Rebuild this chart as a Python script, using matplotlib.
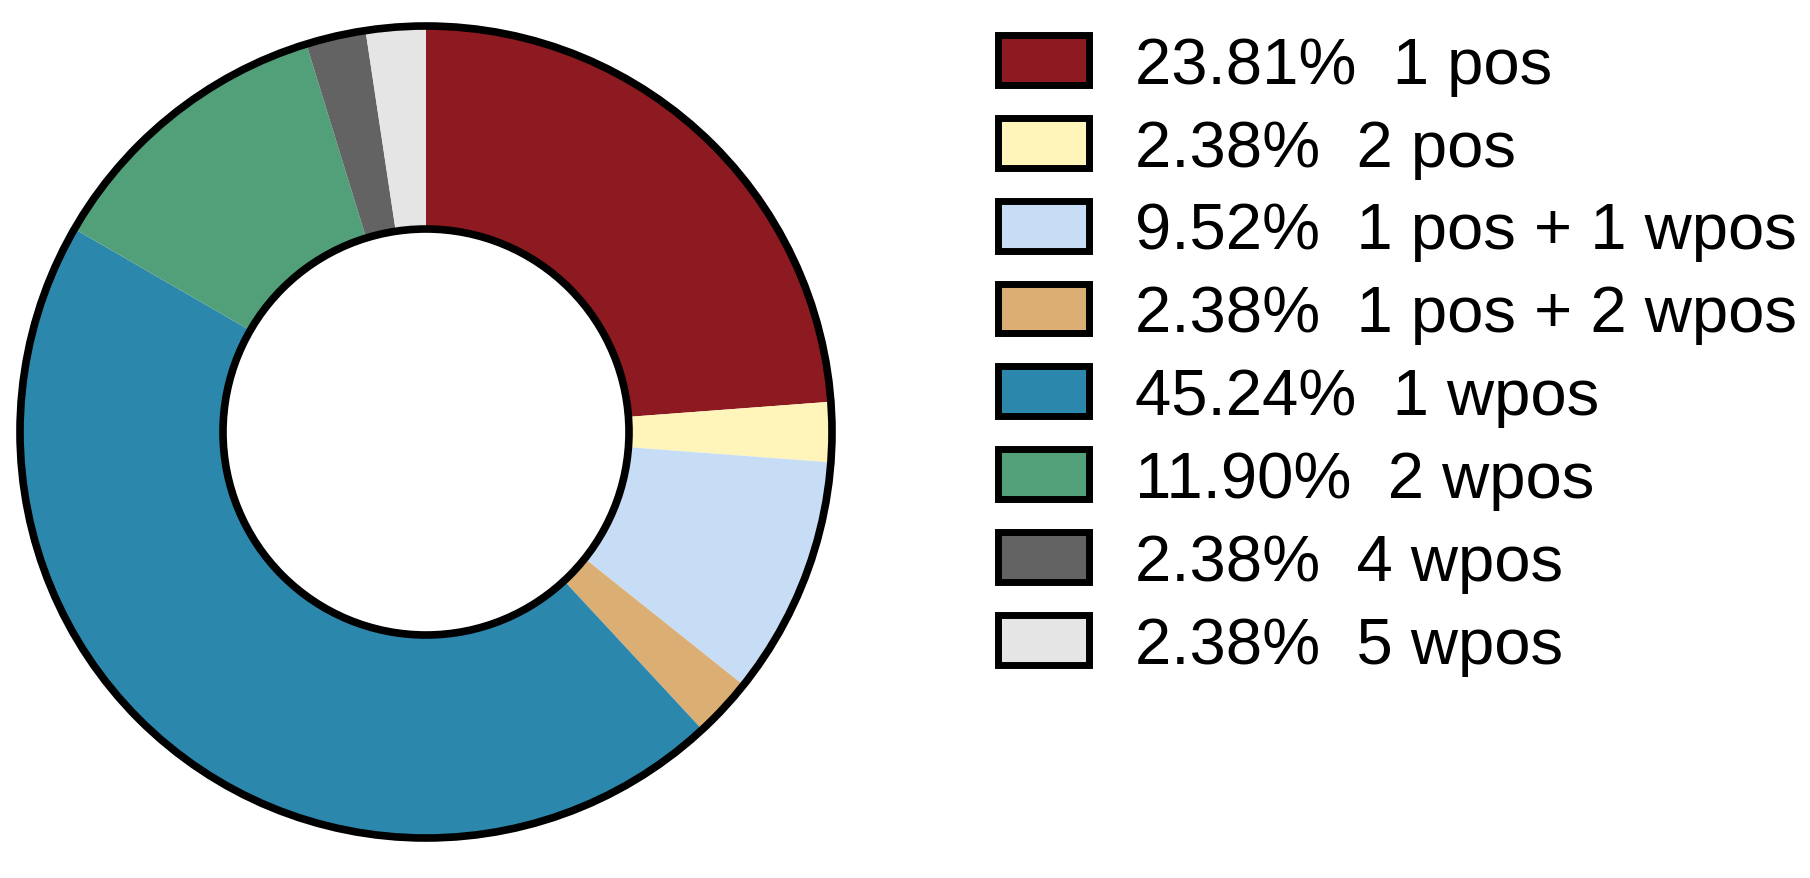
import matplotlib
matplotlib.use("Agg")
import matplotlib.pyplot as plt
from matplotlib.patches import Circle, Patch

plt.rcParams['font.family'] = ['Liberation Sans', 'DejaVu Sans']

# --- data ---
labels = ["1 pos", "2 pos", "1 pos + 1 wpos", "1 pos + 2 wpos",
          "1 wpos", "2 wpos", "4 wpos", "5 wpos"]
shares = [23.81, 2.38, 9.52, 2.38, 45.24, 11.90, 2.38, 2.38]
colors = ["#8E1A21", "#FFF4BA", "#C6DDF5", "#DBAE73",
          "#2C87AD", "#52A07A", "#636363", "#E5E5E5"]

W, H = 1810, 879
fig = plt.figure(figsize=(W / 100, H / 100), dpi=100)

# pie axes: centre ~(426, 433) px, outer radius ~406 px
R_PX, HALF = 406, 420
ax = fig.add_axes([(426 - HALF) / W, (H - 433 - HALF) / H, 2 * HALF / W, 2 * HALF / H])
ax.pie(shares, colors=colors, startangle=90, counterclock=False, radius=1,
       wedgeprops=dict(width=0.5, linewidth=0))
for r in (1.0, 0.5):
    ax.add_patch(Circle((0, 0), r, fill=False, edgecolor="black", linewidth=5.5))
lim = HALF / R_PX
ax.set_xlim(-lim, lim)
ax.set_ylim(-lim, lim)
ax.set_aspect("equal")
ax.axis("off")

handles = [Patch(facecolor=c, edgecolor="black", linewidth=5) for c in colors]
leg_labels = [f"{s:.2f}%  {l}" for s, l in zip(shares, labels)]
fig.legend(handles, leg_labels, loc="upper left", bbox_to_anchor=(998 / W, 1 - 36 / H),
           frameon=False, fontsize=47, borderpad=0, borderaxespad=0,
           handlelength=1.4, handleheight=0.8, handletextpad=0.7,
           labelspacing=0.34)

fig.savefig("out.png", dpi=100)
